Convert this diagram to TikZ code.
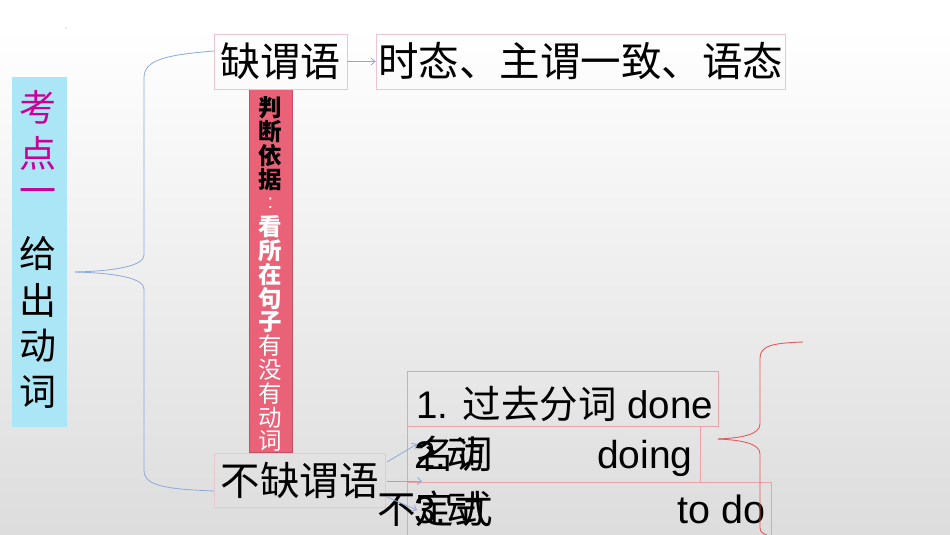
\documentclass[tikz,border=0pt]{standalone}
\usepackage{fontspec}
\setmainfont{Liberation Sans}
\newfontfamily\cjk{Noto Sans CJK SC}
\usetikzlibrary{arrows.meta}
\definecolor{conn}{RGB}{142,169,219}
\definecolor{pinkline}{RGB}{236,196,206}
\definecolor{rowline}{RGB}{238,160,168}
\definecolor{barfill}{RGB}{233,98,120}
\definecolor{barline}{RGB}{196,80,100}
\definecolor{cyanfill}{RGB}{170,230,245}
\definecolor{magtext}{RGB}{204,0,153}
\definecolor{bracered}{RGB}{228,90,95}
\tikzset{
  pinkbox/.style={draw=pinkline, line width=0.8pt, inner sep=0pt},
  rowbox/.style={draw=rowline, line width=0.8pt},
  connline/.style={draw=conn, line width=0.8pt},
  connarrow/.style={draw=conn, line width=0.8pt, -{Straight Barb[length=4pt,width=7pt]}},
  rbrace/.style={draw=bracered, line width=0.9pt},
  txt/.style={inner sep=0pt, anchor=base west},
  vchar/.style={inner sep=0pt},
}
\begin{document}
\begin{tikzpicture}[x=1pt,y=-1pt]
\useasboundingbox (0,0) rectangle (950,535);
\fill[white] (0,0) rectangle (950,535);
\shade[top color=white, bottom color=gray!27] (0,28) rectangle (950,535);
\fill[gray!60] (66,28) circle (0.6);

% left cyan box
\node[fill=cyanfill, minimum width=55pt, minimum height=350pt, inner sep=0pt] (kd) at (39.5,252) {};
\foreach \c/\y/\col in {考/107/magtext, 点/153/magtext, 一/197/magtext, 给/254/black, 出/300/black, 动/346/black, 词/392/black}{
  \node[vchar, text=\col] at (37.5,\y) {\cjk\fontsize{37}{37}\selectfont \c};
}

% red vertical bar
\node[fill=barfill, draw=barline, line width=0.6pt, minimum width=43pt, minimum height=363pt, inner sep=0pt] (bar) at (270.5,270.5) {};
\foreach \c [count=\i from 0] in {判,断,依,据}{
  \node[vchar, text=black] at (270.5,108+23.8*\i) {\cjk\bfseries\fontsize{23.5}{23.5}\selectfont \c};
}
\node[vchar, text=white] at (270.5,203.2) {\fontsize{20}{20}\selectfont :};
\foreach \c [count=\i from 5] in {看,所,在,句,子}{
  \node[vchar, text=white] at (270.5,108+23.8*\i) {\cjk\bfseries\fontsize{23.5}{23.5}\selectfont \c};
}
\foreach \c [count=\i from 10] in {有,没,有,动,词}{
  \node[vchar, text=white] at (270.5,108+23.8*\i) {\cjk\fontsize{23.5}{23.5}\selectfont \c};
}

% top boxes
\node[pinkbox, minimum width=133pt, minimum height=55pt] (que) at (280.5,61.5) {\cjk\fontsize{40}{40}\selectfont 缺谓语};
\node[pinkbox, minimum width=409pt, minimum height=55pt] (shi) at (580.5,61.5) {\cjk\fontsize{40.5}{40.5}\selectfont 时态、主谓一致、语态};
\draw[connarrow] (que.east) -- (shi.west);

% bottom-left box
\node[pinkbox, minimum width=171pt, minimum height=54pt] (buque) at (299.5,480) {\cjk\fontsize{39.5}{39.5}\selectfont 不缺谓语};

% row boxes
\node[rowbox, minimum width=311pt, minimum height=55pt, inner sep=0pt] (r1) at (562.5,398.5) {};
\node[rowbox, minimum width=293pt, minimum height=56pt, inner sep=0pt] (r2) at (553.5,454) {};
\node[rowbox, minimum width=364pt, minimum height=63pt, inner sep=0pt] (r3) at (589,513.5) {};

\node[txt] (t1) at (416,418) {\fontsize{38.5}{38.5}\selectfont 1. {\cjk 过去分词} done};
\node[txt] (t2a) at (414,468) {\fontsize{38.5}{38.5}\selectfont 2.{\cjk 动}};
\node[txt] (t2b) at (416,468) {\cjk\fontsize{38.5}{38.5}\selectfont 名词};
\node[txt] (t2c) at (597,468) {\fontsize{39}{39}\selectfont doing};
\node[txt] (t3a) at (414,523) {\fontsize{38.5}{38.5}\selectfont 3.{\cjk 动}};
\node[txt] (t3b) at (377,523) {\cjk\fontsize{38.5}{38.5}\selectfont 不定式};
\node[txt] (t3c) at (677,523) {\fontsize{39.5}{39.5}\selectfont to do};

% blue brace
\coordinate (btip) at (75,272);
\coordinate (qa) at (214,51);
\coordinate (ba) at (214,491);
\draw[connline] (qa) .. controls (165,55) and (144,60) .. (144,78) -- (144,255)
  .. controls (144,266) and (115,271) .. (btip);
\draw[connline] (btip) .. controls (115,273) and (144,278) .. (144,289) -- (144,470)
  .. controls (144,486) and (165,489) .. (ba);

% arrows from buque
\coordinate (s1) at (387,462);
\coordinate (s2) at (387,481);
\coordinate (s3) at (387,497);
\coordinate (e1) at (417,444);
\coordinate (e2) at (422,481);
\coordinate (e3) at (417,510);
\draw[connarrow] (s1) -- (e1);
\draw[connarrow] (s2) -- (e2);
\draw[connarrow] (s3) -- (e3);

% red brace
\coordinate (rtop) at (803,342);
\coordinate (rtip) at (718,439);
\coordinate (rbot) at (773,537);
\draw[rbrace] (rtop) .. controls (775,343) and (760,345) .. (760,358) -- (760,424)
  .. controls (760,435) and (740,438) .. (rtip);
\draw[rbrace] (rtip) .. controls (740,440) and (760,443) .. (760,454) -- (760,528)
  .. controls (760,533) and (765,535) .. (rbot);
\end{tikzpicture}
\end{document}
